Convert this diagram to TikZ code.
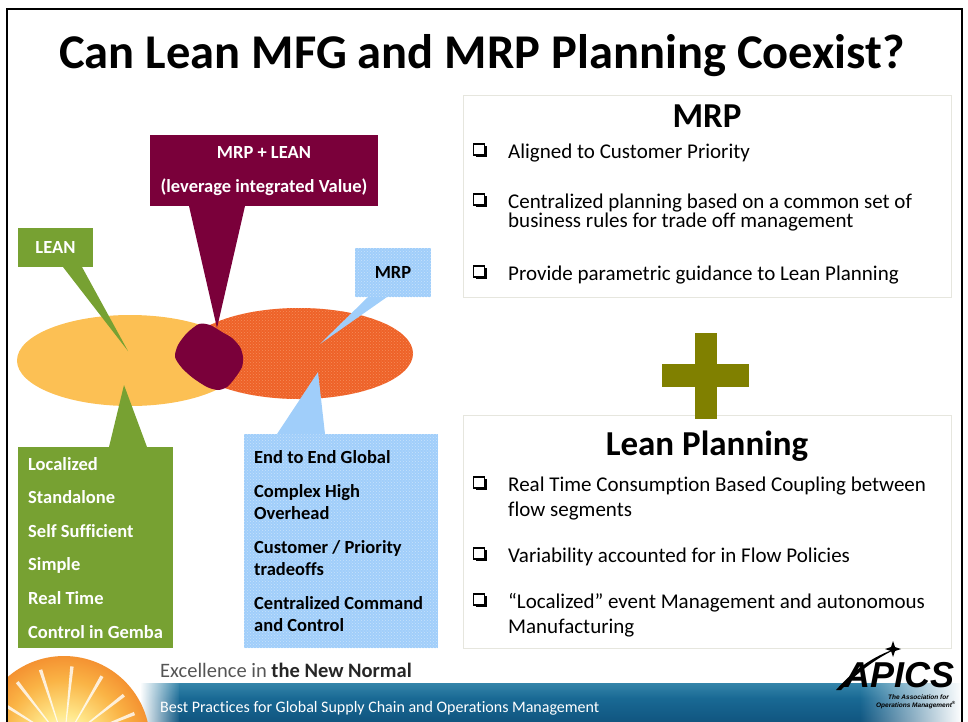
\documentclass[tikz,border=0pt]{standalone}
\usepackage{fontspec}
\setmainfont{Carlito}[Ligatures=NoCommon]
\newfontfamily\logofont{Liberation Sans}
\usetikzlibrary{patterns,fadings,calc,shapes.geometric,shadows}

\definecolor{leangreen}{RGB}{119,161,50}
\definecolor{comboplum}{RGB}{122,0,58}
\definecolor{mrpsky}{RGB}{160,206,250}
\definecolor{mrpskylite}{RGB}{200,226,252}
\definecolor{leanamber}{RGB}{252,192,84}
\definecolor{mrpflame}{RGB}{238,98,40}
\definecolor{mrpflamelite}{RGB}{246,140,90}
\definecolor{plusolive}{RGB}{128,128,0}
\definecolor{cardline}{RGB}{230,230,222}
\definecolor{footgray}{RGB}{85,85,85}
\definecolor{bandtop}{RGB}{215,235,242}
\definecolor{bandhigh}{RGB}{60,140,175}
\definecolor{bandmid}{RGB}{25,105,148}
\definecolor{bandlow}{RGB}{10,70,112}
\definecolor{sunwhite}{RGB}{255,255,245}
\definecolor{sunyellow}{RGB}{255,232,140}
\definecolor{sunamber}{RGB}{250,180,70}
\definecolor{sunorange}{RGB}{240,122,35}
\definecolor{sunred}{RGB}{228,92,35}
\definecolor{sunhaze}{RGB}{248,212,190}

\tikzfading[name=fadein right, left color=transparent!100, right color=transparent!0]
\tikzfading[name=fadeout right, left color=transparent!0, right color=transparent!100]

% glowing disc of the sun
\pgfdeclareradialshading{sunglow}{\pgfpoint{0bp}{0bp}}{%
  color(0bp)=(sunwhite); color(8bp)=(sunyellow); color(18bp)=(sunamber);
  color(30bp)=(sunorange); color(39bp)=(sunred); color(45bp)=(sunhaze); color(50bp)=(white)}
% deep blue footer band, bottom to top
\pgfdeclareverticalshading{bandshade}{100bp}{%
  color(0bp)=(bandlow); color(55bp)=(bandmid); color(80bp)=(bandhigh); color(100bp)=(bandtop)}

\begin{document}
\begin{tikzpicture}[x=1pt,y=-1pt,
  tagbox/.style={draw=none, inner sep=0pt, outer sep=0pt},
  tagtext/.style={font=\bfseries\fontsize{18.5}{22}\selectfont, inner sep=0pt},
  lightlist/.style={text=white, font=\bfseries\fontsize{18.5}{22}\selectfont, anchor=base west, inner sep=0pt},
  darklist/.style={text=black, font=\bfseries\fontsize{18.5}{22}\selectfont, anchor=base west, inner sep=0pt},
  card/.style={draw=cardline, line width=0.8pt, fill=white, inner sep=0pt},
  cardhead/.style={font=\bfseries\fontsize{35}{40}\selectfont, anchor=base, inner sep=0pt},
  carditem/.style={font=\fontsize{21}{25}\selectfont, anchor=base west, inner sep=0pt},
  boxmark/.style={draw=black, line width=1.1pt, fill=white, minimum size=11pt, inner sep=0pt,
    drop shadow={shadow xshift=2pt, shadow yshift=-2pt, fill=black, opacity=1}},
  skyfill/.style={fill=mrpsky, postaction={pattern=crosshatch dots, pattern color=mrpskylite}},
]
\useasboundingbox (0,0) rectangle (968,721);

% ---------- title ----------
\node[font=\bfseries\fontsize{48.5}{52}\selectfont, anchor=base, inner sep=0pt] (title) at (482,68)
  {Can Lean MFG and MRP Planning Coexist?};

% ---------- overlapping ellipses ----------
\node[ellipse, tagbox, fill=leanamber, minimum width=226pt, minimum height=91pt] (leanzone) at (130,360.5) {};
\node[ellipse, tagbox, fill=mrpflame, minimum width=228pt, minimum height=91pt,
      postaction={pattern=crosshatch dots, pattern color=mrpflamelite}] (mrpzone) at (299,353.5) {};

% the shared region
\fill[comboplum] plot[smooth cycle, tension=0.45] coordinates {
  (199,324) (210,325) (222,332) (232,338) (240,347) (243,357) (242,367) (235,378)
  (227,387) (218,390) (207,387) (193,378) (182,368) (175,357) (178,345) (187,333)};

% ---------- callout: MRP + LEAN ----------
\coordinate (combopoint) at (217,328);
\node[tagbox, fill=comboplum, minimum width=228pt, minimum height=71pt] (combotag) at (264,170.5) {};
\fill[comboplum] ([xshift=-75pt]combotag.south) -- ([xshift=-19pt]combotag.south) -- (combopoint) -- cycle;
\node[tagtext, text=white, align=center, font=\bfseries\fontsize{18.5}{34}\selectfont] (combotext) at (264,171)
  {MRP + LEAN\\(leverage integrated Value)};

% ---------- callout: LEAN ----------
\coordinate (leanpoint) at (128,351);
\node[tagbox, fill=leangreen, minimum width=75pt, minimum height=39pt] (leantag) at (55.5,247.5) {};
\fill[leangreen] ([xshift=7.5pt]leantag.south) -- ([xshift=26.5pt]leantag.south) -- (leanpoint) -- cycle;
\node[tagtext, text=white] (leantext) at (leantag) {LEAN};

% ---------- callout: MRP ----------
\coordinate (mrppoint) at (320,344);
\node[tagbox, skyfill, minimum width=76pt, minimum height=49pt] (mrptag) at (393,272.5) {};
\fill[mrpsky] ([xshift=-25pt]mrptag.south) -- ([xshift=-6pt]mrptag.south) -- (mrppoint) -- cycle;
\node[tagtext, text=black] (mrptext) at (393,272) {MRP};

% ---------- LEAN traits ----------
\coordinate (leanlow) at (124,385);
\node[tagbox, fill=leangreen, minimum width=155pt, minimum height=201pt] (leanlist) at (95.5,547.5) {};
\fill[leangreen] ([xshift=13.5pt]leanlist.north) -- ([xshift=51.5pt]leanlist.north) -- (leanlow) -- cycle;
\node[lightlist] (lt1) at (28,470) {Localized};
\node[lightlist] (lt2) at (28,503) {Standalone};
\node[lightlist] (lt3) at (28,537) {Self Sufficient};
\node[lightlist] (lt4) at (28,570) {Simple};
\node[lightlist] (lt5) at (28,604) {Real Time};
\node[lightlist] (lt6) at (28,638) {Control in Gemba};

% ---------- MRP traits ----------
\coordinate (mrplow) at (318,372);
\node[tagbox, skyfill, minimum width=194pt, minimum height=214pt] (mrplist) at (341,541) {};
\fill[mrpsky] ([xshift=-64pt]mrplist.north) -- ([xshift=-16pt]mrplist.north) -- (mrplow) -- cycle;
\node[darklist] (mt1) at (254,463) {End to End Global};
\node[darklist] (mt2) at (254,497) {Complex High};
\node[darklist] (mt3) at (254,519) {Overhead};
\node[darklist] (mt4) at (254,553) {Customer / Priority};
\node[darklist] (mt5) at (254,575) {tradeoffs};
\node[darklist] (mt6) at (254,609) {Centralized Command};
\node[darklist] (mt7) at (254,631) {and Control};

% ---------- MRP card ----------
\node[card, minimum width=488pt, minimum height=202pt] (mrpcard) at (707,196) {};
\node[cardhead] (mrphead) at (707,127) {MRP};
\node[boxmark] (mb1) at (479,149.5) {};
\node[carditem] (mc1) at (508,158) {Aligned to Customer Priority};
\node[boxmark] (mb2) at (479,199.5) {};
\node[carditem] (mc2) at (508,208) {Centralized planning based on a common set of};
\node[carditem] (mc3) at (508,227) {business rules for trade off management};
\node[boxmark] (mb3) at (479,271.5) {};
\node[carditem] (mc4) at (508,280) {Provide parametric guidance to Lean Planning};

% ---------- Lean Planning card ----------
\node[card, minimum width=488pt, minimum height=233pt] (leancard) at (707,531.5) {};
\node[cardhead] (leanhead) at (707,455) {Lean Planning};
\node[boxmark] (lb1) at (479,482.5) {};
\node[carditem] (lc1) at (508,491) {Real Time Consumption Based Coupling between};
\node[carditem] (lc2) at (508,516) {flow segments};
\node[boxmark] (lb2) at (479,553.5) {};
\node[carditem] (lc3) at (508,562) {Variability accounted for in Flow Policies};
\node[boxmark] (lb3) at (479,599.5) {};
\node[carditem] (lc4) at (508,608) {“Localized” event Management and autonomous};
\node[carditem] (lc5) at (508,633) {Manufacturing};

% ---------- plus sign ----------
\node[tagbox, fill=plusolive, minimum width=22pt, minimum height=86pt] (plusv) at (706,376) {};
\node[tagbox, fill=plusolive, minimum width=87pt, minimum height=23pt] (plush) at (705.5,375.5) {};

% ---------- footer ----------
\coordinate (sun) at (64,742);
\begin{scope}
  \clip (8,652) rectangle (968,721);
  \shade[shading=bandshade, path fading=fadein right] (140,683) rectangle (180,721);
  \shade[shading=bandshade] (179.5,683) rectangle (860.5,721);
  \shade[shading=bandshade, path fading=fadeout right] (860,683) rectangle (962,721);
  \shade[shading=sunglow] (sun) circle [radius=86pt];
  \foreach \a in {-22,-38,-60,-84,-108,-128,-148,-166} {
    \fill[white, opacity=0.8] (sun) -- ($(sun)+(\a-1.3:76)$) -- ($(sun)+(\a+1.3:76)$) -- cycle;
  }
  \fill[white, opacity=0.85] (sun) circle [radius=10pt];
\end{scope}
\node[anchor=base west, inner sep=0pt, text=footgray, font=\fontsize{20.5}{22}\selectfont] (tagline) at (160,677)
  {Excellence in \textcolor{black!85}{\bfseries the New Normal}};
\node[anchor=base west, inner sep=0pt, text=white, font=\fontsize{16}{18}\selectfont] (motto) at (160,712)
  {Best Practices for Global Supply Chain and Operations Management};

% ---------- association logo ----------
\node[anchor=base east, inner sep=0pt, font=\logofont\bfseries\itshape\fontsize{36}{36}\selectfont] (apics) at (955,687) {APICS};
\fill[black] (836,690) .. controls (852,672) and (872,656) .. (898,648)
  .. controls (874,659) and (856,674) .. (841,690) -- cycle;
\fill[black] (893,641) -- (895,647) -- (901,649) -- (895,651) -- (893,657) -- (891,651) -- (885,649) -- (891,647) -- cycle;
\node[anchor=base east, inner sep=0pt, font=\logofont\bfseries\itshape\fontsize{6.5}{7}\selectfont] (assoc1) at (949,699) {The Association for};
\node[anchor=base east, inner sep=0pt, font=\logofont\bfseries\itshape\fontsize{6.5}{7}\selectfont] (assoc2) at (956,707) {Operations Management\textsuperscript{®}};

% ---------- slide frame ----------
\draw[line width=2.5pt, line cap=rect] (7,730) -- (7,9) -- (962,9) -- (962,730);
\end{tikzpicture}
\end{document}
